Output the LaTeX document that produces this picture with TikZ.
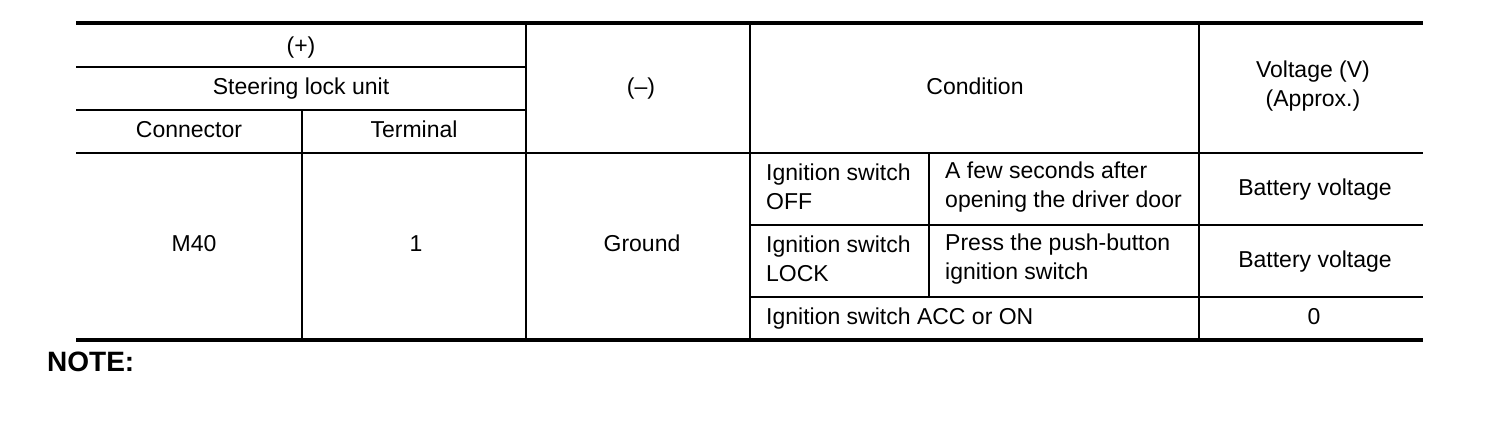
\documentclass[tikz,border=0pt]{standalone}
\usepackage{fontspec}
\setmainfont{Liberation Sans}
\usetikzlibrary{positioning}

\begin{document}
\begin{tikzpicture}[x=1pt,y=-1pt,every node/.style={inner sep=0pt,font=\fontsize{23}{29}\selectfont},
	cell/.style={text height=16.5pt,text depth=0pt},
	thin line/.style={line width=2pt},thick line/.style={line width=4pt}]
\useasboundingbox (0,0) rectangle (1504,432);

% header and body cells
\foreach \x/\y/\l/\t in {301/45/plus/{(+)},301/86/unit/{Steering lock unit},189/129/conn/{Connector},414/129/term/{Terminal},
	641/86/minus/{(--)},975/86/cond/{Condition},194/243/mforty/{M40},416/243/one/{1},642/243/gnd/{Ground},
	1315/187/batA/{Battery voltage},1315/259/batB/{Battery voltage},1314/316/zero/{0}}
	\node[cell] (\l) at (\x,\y) {\t};
\node[align=center] (volt) at (1313,86) {Voltage (V)\\(Approx.)};
\node[anchor=west,align=left] (offsw) at (766,187) {Ignition switch\\OFF};
\node[anchor=west,align=left] (door) at (945,187) {A few seconds after\\opening the driver door};
\node[anchor=west,align=left] (locksw) at (766,259) {Ignition switch\\LOCK};
\node[anchor=west,align=left] (push) at (945,259) {Press the push-button\\ignition switch};
\node[cell,anchor=west] (accon) at (766,316) {Ignition switch ACC or ON};
\node[anchor=west,text height=20pt,text depth=0pt,font=\fontsize{28}{30}\selectfont\bfseries] (note) at (47,361) {NOTE:};

% rules
\foreach \y in {23,340}
	\draw[thick line](76,\y)--(1423,\y);
\foreach \a/\b/\y in {76/526/67,76/526/110,76/1423/153,750/1423/225,750/1423/297}
	\draw[thin line](\a,\y)--(\b,\y);
\foreach \x/\a/\b in {302/110/340,526/23/340,750/23/340,929/153/297,1199/23/340}
	\draw[thin line](\x,\a)--(\x,\b);
\end{tikzpicture}
\end{document}
